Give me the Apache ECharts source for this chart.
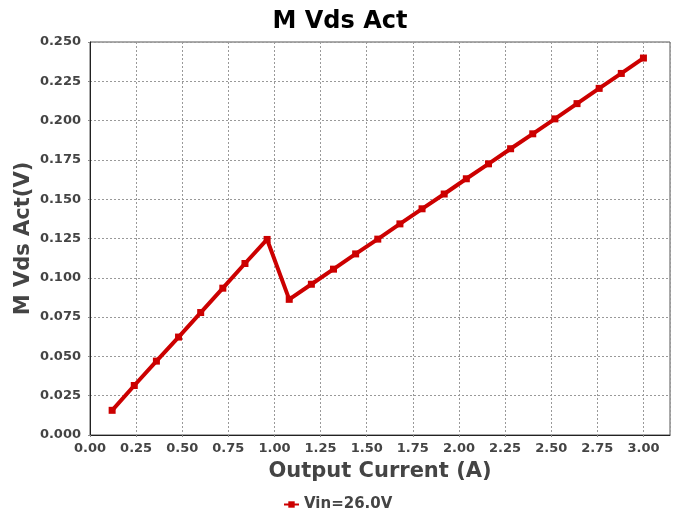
<!DOCTYPE html>
<html>
<head>
<meta charset="utf-8">
<script src="https://cdn.jsdelivr.net/npm/echarts@6/dist/echarts.min.js"></script>
<style>html,body{margin:0;padding:0;background:#fff;}#c{width:680px;height:516px;}</style>
</head>
<body>
<div id="c"></div>
<script>
var titleText = 'M Vds Act';
var xName = 'Output Current (A)';
var yName = 'M Vds Act(V)';
var seriesName = 'Vin=26.0V';
var currents = [0.12, 0.24, 0.36, 0.48, 0.60, 0.72, 0.84, 0.96, 1.08, 1.20, 1.32, 1.44, 1.56, 1.68, 1.80, 1.92, 2.04, 2.16, 2.28, 2.40, 2.52, 2.64, 2.76, 2.88, 3.00];
var vdsValues = [0.0157, 0.0315, 0.0470, 0.0623, 0.0779, 0.0934, 0.1091, 0.1244, 0.0863, 0.0959, 0.1055, 0.1152, 0.1246, 0.1343, 0.1439, 0.1533, 0.1630, 0.1725, 0.1821, 0.1916, 0.2011, 0.2108, 0.2205, 0.2300, 0.2398];

var font = 'DejaVu Sans';
var chart = echarts.init(document.getElementById('c'), null, {renderer: 'canvas'});
var data = currents.map(function (x, i) { return [x, vdsValues[i]]; });
chart.setOption({
  backgroundColor: '#ffffff',
  animation: false,
  title: {
    text: titleText, left: 'center', top: 5,
    textStyle: {fontFamily: font, fontWeight: 'bold', fontSize: 24, color: '#000'}
  },
  legend: {
    left: 278, top: 492,
    itemWidth: 15, itemHeight: 8, itemGap: 4,
    textStyle: {fontFamily: font, fontWeight: 'bold', fontSize: 15, color: '#444'},
    data: [seriesName]
  },
  grid: {left: 90, top: 42, width: 580, height: 393, show: true, borderColor: '#555', borderWidth: 1, containLabel: false},
  xAxis: {
    type: 'value', min: 0, max: 3.144, interval: 0.25,
    name: xName, nameLocation: 'middle', nameGap: 26, nameMoveOverlap: false,
    nameTextStyle: {fontFamily: font, fontWeight: 'bold', fontSize: 21, color: '#444'},
    axisLine: {show: true, onZero: false, lineStyle: {color: '#222', width: 1}},
    axisTick: {show: true, length: 2, lineStyle: {color: '#888'}},
    axisLabel: {
      fontFamily: font, fontWeight: 'bold', fontSize: 13, color: '#444', margin: 7,
      showMaxLabel: false,
      formatter: function (v) { return v > 3.01 ? '' : v.toFixed(2); }
    },
    splitLine: {show: true, lineStyle: {color: '#999', type: [2, 2], width: 1}}
  },
  yAxis: {
    type: 'value', min: 0, max: 0.25, interval: 0.025,
    name: yName, nameLocation: 'middle', nameGap: 56, nameMoveOverlap: false,
    nameTextStyle: {fontFamily: font, fontWeight: 'bold', fontSize: 21, color: '#444'},
    axisLine: {show: true, onZero: false, lineStyle: {color: '#222', width: 1}},
    axisTick: {show: true, length: 2, lineStyle: {color: '#888'}},
    axisLabel: {
      fontFamily: font, fontWeight: 'bold', fontSize: 13, color: '#444', margin: 9,
      formatter: function (v) { return v.toFixed(3); }
    },
    splitLine: {show: true, lineStyle: {color: '#999', type: [2, 2], width: 1}}
  },
  series: [{
    name: seriesName, type: 'line', data: data,
    symbol: 'rect', symbolSize: 7, showSymbol: true,
    lineStyle: {color: '#cc0000', width: 4},
    itemStyle: {color: '#cc0000'},
    emphasis: {disabled: true}
  }]
});
</script>
</body>
</html>
